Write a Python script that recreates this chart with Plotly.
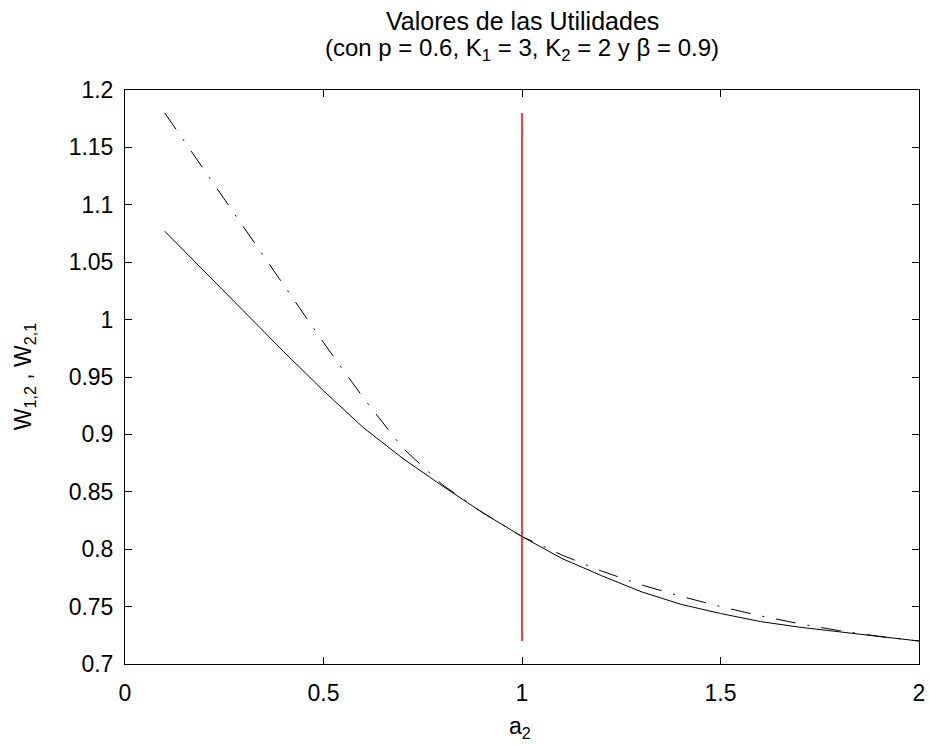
import plotly.graph_objects as go

a2 = [0.1, 0.2, 0.3, 0.4, 0.5, 0.6, 0.7, 0.8, 0.9, 1.0,
      1.1, 1.2, 1.3, 1.4, 1.5, 1.6, 1.7, 1.8, 1.9, 2.0]
w12 = [1.077, 1.042, 1.007, 0.972, 0.938, 0.906, 0.879, 0.855, 0.832, 0.811,
       0.792, 0.777, 0.763, 0.752, 0.744, 0.737, 0.732, 0.728, 0.724, 0.720]
w21 = [1.180, 1.130, 1.080, 1.030, 0.980, 0.932, 0.888, 0.856, 0.832, 0.811,
       0.795, 0.781, 0.769, 0.759, 0.750, 0.742, 0.735, 0.729, 0.724, 0.720]
vline_x = [1.0, 1.0]
vline_y = [0.72, 1.18]

x_ticks = [0, 0.5, 1, 1.5, 2]
x_ticklabels = ["0", "0.5", "1", "1.5", "2"]
y_ticks = [0.7, 0.75, 0.8, 0.85, 0.9, 0.95, 1.0, 1.05, 1.1, 1.15, 1.2]
y_ticklabels = ["0.7", "0.75", "0.8", "0.85", "0.9", "0.95", "1", "1.05", "1.1", "1.15", "1.2"]

title_line1 = "Valores de las Utilidades"
title_line2 = "(con p = 0.6, K<sub>1</sub> = 3, K<sub>2</sub> = 2 y β = 0.9)"
x_label = "a<sub>2</sub>"
y_label = "W<sub>1,2</sub> , W<sub>2,1</sub>"

FONT = "Liberation Sans"
TICKSIZE = 23

fig = go.Figure()
fig.add_trace(go.Scatter(x=a2, y=w12, mode="lines",
                         line=dict(color="black", width=1), showlegend=False))
fig.add_trace(go.Scatter(x=a2, y=w21, mode="lines",
                         line=dict(color="black", width=1, dash="20px,12px,2px,12px"),
                         showlegend=False))
fig.add_trace(go.Scatter(x=vline_x, y=vline_y, mode="lines",
                         line=dict(color="red", width=1.5), showlegend=False))

axis_common = dict(showgrid=False, zeroline=False, showline=True, linecolor="black",
                   linewidth=1, mirror="allticks", ticks="inside", ticklen=7,
                   tickcolor="black", tickfont=dict(family=FONT, size=TICKSIZE, color="black"))

fig.update_layout(
    width=929, height=747,
    paper_bgcolor="white", plot_bgcolor="white",
    margin=dict(l=125, r=10, t=90, b=83, autoexpand=False),
    xaxis=dict(range=[0, 2], tickvals=x_ticks, ticktext=x_ticklabels,
               ticklabelstandoff=8, **axis_common),
    yaxis=dict(range=[0.7, 1.2], tickvals=y_ticks, ticktext=y_ticklabels,
               ticklabelstandoff=6, **axis_common),
    annotations=[
        dict(text=title_line1, xref="paper", yref="paper", x=0.5, y=1.12,
             xanchor="center", yanchor="middle", showarrow=False,
             font=dict(family=FONT, size=25, color="black")),
        dict(text=title_line2, xref="paper", yref="paper", x=0.5, y=1.07,
             xanchor="center", yanchor="middle", showarrow=False,
             font=dict(family=FONT, size=24, color="black")),
        dict(text=x_label, xref="paper", yref="paper", x=0.497, y=-0.11,
             xanchor="center", yanchor="middle", showarrow=False,
             font=dict(family=FONT, size=TICKSIZE, color="black")),
        dict(text=y_label, xref="paper", yref="paper", x=-0.127, y=0.5,
             xanchor="center", yanchor="middle", showarrow=False, textangle=-90,
             font=dict(family=FONT, size=TICKSIZE, color="black")),
    ],
)

fig.write_html("out.html", config={"displayModeBar": False},
               post_script="document.body.style.margin='0';")
